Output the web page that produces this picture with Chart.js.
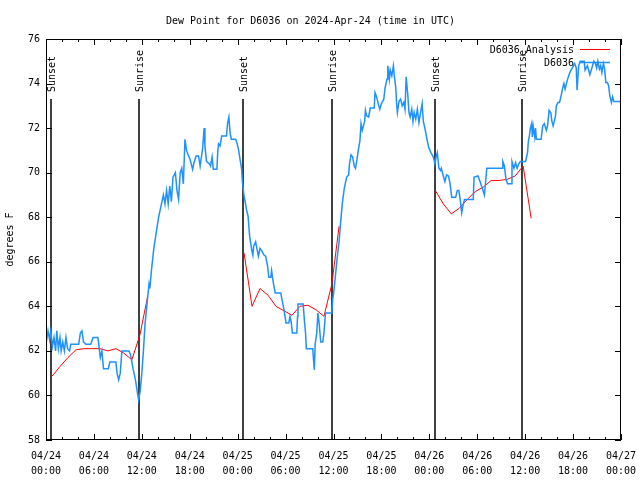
<!DOCTYPE html>
<html><head><meta charset="utf-8">
<script src="https://cdn.jsdelivr.net/npm/chart.js@4.4.1/dist/chart.umd.min.js"></script>
<style>html,body{margin:0;padding:0;background:#fff;}</style>
</head><body>
<canvas id="c" width="640" height="480"></canvas>
<script>
const titleText = 'Dew Point for D6036 on 2024-Apr-24 (time in UTC)';
const yAxisLabel = 'degrees F';
const tickDates = ['04/24','04/24','04/24','04/24','04/25','04/25','04/25','04/25','04/26','04/26','04/26','04/26','04/27'];
const tickTimes = ['00:00','06:00','12:00','18:00','00:00','06:00','12:00','18:00','00:00','06:00','12:00','18:00','00:00'];
const sunHours = [0.67, 11.69, 24.71, 35.77, 48.71, 59.65];
const sunLabels = ['Sunset','Sunrise','Sunset','Sunrise','Sunset','Sunrise'];
const seriesLabels = ['D6036_Analysis','D6036'];

// hours since 04/24 00:00 UTC
const blueHours = [0.0,0.25,0.45,0.6,0.8,1.0,1.2,1.35,1.55,1.75,1.9,2.1,2.3,2.5,2.7,2.95,3.1,4.1,4.3,4.5,4.7,5.0,5.6,5.9,6.5,6.6,6.8,7.0,7.2,7.8,8.0,8.75,8.9,9.1,9.3,9.5,10.4,10.6,10.9,11.2,11.5,11.6,11.8,12.0,12.2,12.4,12.7,12.9,13.0,13.2,13.5,13.8,14.1,14.4,14.7,14.9,15.1,15.3,15.5,15.7,15.9,16.2,16.4,16.6,16.8,17.0,17.2,17.4,17.6,17.8,18.03,18.36,18.5,18.8,19.1,19.3,19.6,19.8,19.9,20.1,20.45,20.6,20.8,20.95,21.4,21.5,21.6,21.8,22.0,22.6,22.75,22.9,23.05,23.2,23.75,23.9,24.1,24.3,24.5,24.6,24.8,24.96,25.1,25.3,25.5,25.75,25.9,26.0,26.25,26.4,26.6,26.8,27.0,27.3,27.5,27.75,27.9,28.15,28.25,28.4,28.55,28.7,29.4,29.55,29.8,30.05,30.4,30.55,30.7,30.85,31.4,31.5,31.55,32.2,32.35,32.5,32.6,33.4,33.5,33.6,33.7,33.9,34.05,34.2,34.4,34.65,34.8,35.0,35.8,35.9,36.05,36.5,36.7,36.9,37.1,37.35,37.65,37.9,38.0,38.2,38.4,38.6,38.75,38.9,39.1,39.3,39.45,39.6,39.9,40.0,40.15,40.4,40.6,41.1,41.2,41.4,41.6,41.8,42.0,42.3,42.45,42.7,42.8,43.0,43.1,43.3,43.5,43.6,43.8,43.9,44.0,44.2,44.4,44.6,44.8,44.95,45.1,45.3,45.45,45.6,45.8,45.95,46.1,46.3,46.5,46.7,46.9,47.1,47.25,47.5,47.7,47.95,48.2,48.35,48.5,48.7,48.85,49.0,49.2,49.4,49.5,49.75,49.95,50.15,50.4,50.6,50.8,51.3,51.5,51.7,51.9,52.05,52.2,52.4,53.5,53.6,54.09,54.4,54.9,55.2,57.1,57.2,57.4,57.6,57.8,58.3,58.35,58.6,58.8,59.0,59.2,59.4,60.05,60.3,60.4,60.55,60.65,60.8,60.9,61.0,61.2,61.3,61.4,62.0,62.2,62.4,62.65,62.8,63.0,63.2,63.35,63.5,63.8,63.9,64.1,64.3,64.5,64.7,64.85,65.0,65.2,65.4,65.6,65.9,66.2,66.4,66.5,66.7,66.9,67.4,67.5,67.8,68.1,68.35,68.6,68.8,68.95,69.1,69.3,69.45,69.6,69.8,69.95,70.1,70.3,70.45,70.6,70.8,70.95,71.1,71.4,72.0];
const blueValues = [62.3,62.9,62.5,62.9,62.2,62.6,62.0,62.9,62.1,62.6,62.0,62.4,62.0,62.6,62.1,62.0,62.3,62.3,62.8,62.9,62.4,62.3,62.3,62.6,62.6,62.3,61.7,62.0,61.2,61.2,61.5,61.5,61.0,60.7,61.0,62.0,62.0,61.8,61.2,60.7,60.0,59.8,60.2,61.0,62.0,63.2,64.3,65.0,64.8,65.6,66.6,67.3,68.0,68.5,69.0,68.6,69.2,68.6,69.4,68.7,69.8,70.0,69.2,68.8,70.0,70.2,69.5,71.5,71.0,70.8,70.6,70.15,70.4,70.75,70.75,70.3,71.05,72.0,71.2,70.5,70.4,70.3,70.7,70.15,70.15,70.9,71.3,71.2,71.65,71.65,72.25,72.5,71.8,71.5,71.5,71.35,71.05,70.6,70.15,69.55,68.95,68.65,68.35,68.05,67.15,66.55,66.3,66.7,66.9,66.6,66.25,66.6,66.5,66.3,66.25,65.8,65.3,65.3,65.6,65.2,64.9,64.6,64.6,64.3,63.85,63.25,63.25,63.55,63.3,62.8,62.8,63.55,64.1,64.1,63.4,62.8,62.1,62.1,61.6,61.15,62.3,62.8,63.7,63.25,62.4,62.4,62.8,63.7,63.7,64.3,64.7,66.3,66.9,67.8,68.6,69.3,69.8,69.9,70.4,70.8,70.7,70.3,70.2,70.5,71.0,71.4,72.2,71.9,72.3,72.8,72.55,72.5,72.9,72.9,73.6,73.4,73.1,72.85,73.1,73.3,73.8,74.2,74.8,74.2,74.6,74.35,74.8,74.4,73.8,73.1,72.7,73.2,73.3,73.0,73.15,72.85,74.3,73.5,72.7,72.5,72.85,72.3,72.7,72.4,72.85,72.25,72.7,73.1,72.3,71.9,71.5,71.1,70.9,70.8,70.7,70.4,70.7,70.9,70.2,70.1,70.2,69.85,69.6,69.9,69.85,69.5,68.9,68.9,69.2,69.2,68.7,68.2,68.5,68.8,68.8,69.8,69.85,69.55,69.0,70.2,70.2,70.5,70.3,69.7,69.5,69.5,70.5,70.2,70.45,70.2,70.4,70.5,70.5,70.9,71.4,71.7,72.0,72.2,71.6,72.1,71.6,72.0,71.5,71.5,72.1,72.2,71.9,72.1,72.8,72.7,72.3,72.1,72.55,73.0,73.15,73.15,73.45,73.8,74.0,73.75,74.05,74.3,74.5,74.7,74.9,74.7,73.7,74.8,75.0,75.0,74.6,74.8,74.4,74.7,75.0,74.9,74.7,75.0,74.65,74.8,74.5,74.9,74.65,74.05,74.05,73.9,73.45,73.15,73.4,73.2,73.2,73.2];

const redHours = [0.75,1.75,2.75,3.75,4.75,5.75,6.75,7.75,8.75,9.75,10.75,11.75,12.7,18,24.8,25.8,26.8,27.8,28.8,29.8,30.8,31.8,32.8,33.8,34.8,35.8,36.7,42,48.75,49.75,50.75,51.75,52.75,53.75,54.75,55.75,56.75,57.75,58.75,59.75,60.75];
const redValues = [60.86,61.3,61.7,62.05,62.1,62.1,62.1,62.0,62.1,61.9,61.6,62.7,64.4,null,66.4,64.0,64.8,64.5,64.0,63.8,63.6,64.0,64.05,63.85,63.55,65.0,67.6,null,69.2,68.6,68.15,68.4,68.8,69.15,69.35,69.65,69.65,69.7,69.85,70.3,67.95];

const FONT = "'DejaVu Sans Mono', monospace";
Chart.defaults.font.family = FONT;
Chart.defaults.font.size = 10;
Chart.defaults.color = '#000';

const decor = {
  id: 'decor',
  beforeDatasetsDraw(chart) {
    const {ctx, chartArea: a, scales: {x}} = chart;
    ctx.save();
    ctx.strokeStyle = '#000';
    ctx.lineWidth = 1.5;
    ctx.fillStyle = '#000';
    ctx.font = '10px ' + FONT;
    sunHours.forEach((h, i) => {
      const px = Math.round(x.getPixelForValue(h));
      ctx.beginPath(); ctx.moveTo(px, a.top + 60); ctx.lineTo(px, a.bottom); ctx.stroke();
      ctx.save();
      ctx.translate(px + 1, a.top + 53);
      ctx.rotate(-Math.PI / 2);
      ctx.textAlign = 'left'; ctx.textBaseline = 'middle';
      ctx.fillText(sunLabels[i], 0, 0);
      ctx.restore();
    });
    ctx.restore();
  },
  afterDraw(chart) {
    const {ctx, chartArea: a, scales: {x, y}} = chart;
    ctx.save();
    ctx.strokeStyle = '#000';
    ctx.lineWidth = 1;
    ctx.strokeRect(a.left + 0.5, a.top + 0.5, a.right - a.left - 1, a.bottom - a.top - 1);
    ctx.beginPath();
    for (let v = 58; v <= 76; v += 2) {
      const py = Math.round(y.getPixelForValue(v)) + 0.5;
      ctx.moveTo(a.left, py); ctx.lineTo(a.left + 6, py);
      ctx.moveTo(a.right, py); ctx.lineTo(a.right - 6, py);
    }
    for (let h = 0; h <= 72; h += 2) {
      const px = Math.round(x.getPixelForValue(h)) + 0.5;
      const len = (h % 6 === 0) ? 6 : 3;
      ctx.moveTo(px, a.bottom); ctx.lineTo(px, a.bottom - len);
      ctx.moveTo(px, a.top); ctx.lineTo(px, a.top + len);
    }
    ctx.stroke();
    // legend
    ctx.font = '10px ' + FONT;
    ctx.textAlign = 'right'; ctx.textBaseline = 'middle';
    ctx.fillStyle = '#000';
    chart.data.datasets.forEach((ds, i) => {
      const ly = a.top + 11 + i * 13;
      ctx.fillText(ds.label, a.right - 47, ly);
      ctx.strokeStyle = ds.borderColor;
      ctx.lineWidth = ds.borderWidth;
      ctx.beginPath(); ctx.moveTo(a.right - 41, ly - 0.5); ctx.lineTo(a.right - 11, ly - 0.5); ctx.stroke();
    });
    ctx.restore();
  }
};

new Chart(document.getElementById('c'), {
  type: 'line',
  data: {
    datasets: [
      { label: seriesLabels[0], data: redHours.map((h, i) => ({x: h, y: redValues[i]})),
        borderColor: '#ff0000', borderWidth: 1, pointRadius: 0, tension: 0, spanGaps: false, order: 1 },
      { label: seriesLabels[1], data: blueHours.map((h, i) => ({x: h, y: blueValues[i]})),
        borderColor: '#1e90ff', borderWidth: 1.5, pointRadius: 0, tension: 0, order: 0 }
    ]
  },
  options: {
    responsive: false,
    animation: false,
    devicePixelRatio: 1,
    layout: { padding: { top: 0, right: 19, bottom: 0, left: 0 } },
    plugins: {
      legend: { display: false },
      tooltip: { enabled: false },
      title: { display: true, text: titleText, font: { size: 10, weight: 'normal' }, padding: { top: 15, bottom: 12 }, color: '#000' }
    },
    scales: {
      x: {
        type: 'linear', min: 0, max: 72,
        grid: { display: false, drawTicks: false },
        border: { display: false },
        ticks: {
          stepSize: 6, autoSkip: false, maxRotation: 0, padding: 9,
          font: { size: 10, lineHeight: 1.5 },
          callback: (v) => { const i = Math.round(v / 6); return [tickDates[i], tickTimes[i]]; }
        },
        afterFit: (s) => { s.height = 40; s.paddingLeft = 0; s.paddingRight = 0; }
      },
      y: {
        type: 'linear', min: 58, max: 76,
        grid: { display: false, drawTicks: false },
        border: { display: false },
        ticks: { stepSize: 2, padding: 6, font: { size: 10 } },
        title: { display: true, text: yAxisLabel, font: { size: 10 }, padding: { top: 4, bottom: 0 } },
        afterFit: (s) => { s.width = 46; s.paddingTop = 0; s.paddingBottom = 0; }
      }
    }
  },
  plugins: [decor]
});
</script>
</body></html>
